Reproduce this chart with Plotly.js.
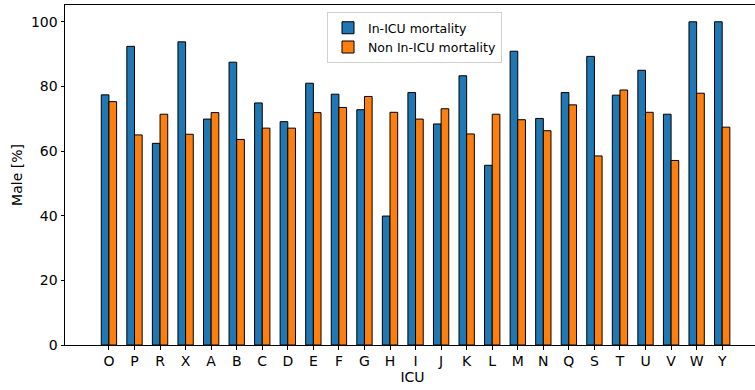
<!DOCTYPE html>
<html>
<head>
<meta charset="utf-8">
<script src="https://cdn.plot.ly/plotly-3.0.1.min.js"></script>
<style>html,body{margin:0;padding:0;overflow:hidden;background:#fff;}</style>
</head>
<body>
<div id="chart" style="width:760px;height:390px;"></div>
<script>
const categories = ["O","P","R","X","A","B","C","D","E","F","G","H","I","J","K","L","M","N","Q","S","T","U","V","W","Y"];
const inIcuMortality = [77.4,92.4,62.4,93.8,69.9,87.5,74.9,69.1,81.0,77.6,72.8,39.9,78.1,68.4,83.3,55.6,90.9,70.1,78.1,89.3,77.3,85.0,71.4,100,100];
const nonInIcuMortality = [75.3,65.0,71.4,65.2,71.9,63.6,67.1,67.1,71.9,73.5,76.9,72.0,69.9,73.1,65.3,71.4,69.7,66.3,74.3,58.5,78.9,72.0,57.1,77.9,67.4];
const seriesNames = ["In-ICU mortality","Non In-ICU mortality"];
const yTicks = [0,20,40,60,80,100];

const font = {family: "DejaVu Sans, sans-serif", size: 14, color: "#000"};
const data = [
  {type: "bar", name: seriesNames[0], x: categories, y: inIcuMortality,
   marker: {color: "#1f77b4", line: {color: "#000", width: 1}}},
  {type: "bar", name: seriesNames[1], x: categories, y: nonInIcuMortality,
   marker: {color: "#ff7f0e", line: {color: "#000", width: 1}}}
];
const layout = {
  width: 760, height: 390,
  margin: {l: 65, r: 0, t: 5, b: 45},
  paper_bgcolor: "#fff", plot_bgcolor: "#fff",
  font: font,
  barmode: "group", bargap: 0.4, bargroupgap: 0,
  showlegend: true,
  legend: {x: 0.377, y: 0.979, xanchor: "left", yanchor: "top",
           bordercolor: "#d0d0d0", borderwidth: 1, bgcolor: "rgba(255,255,255,0.8)",
           font: {family: "DejaVu Sans, sans-serif", size: 12.5, color: "#000"},
           tracegroupgap: 0},
  xaxis: {
    type: "category", range: [-1.72, 25.48],
    showline: true, linecolor: "#000", linewidth: 1, mirror: true,
    showgrid: false, zeroline: false,
    ticks: "outside", ticklen: 3.5, tickcolor: "#000",
    tickfont: font,
    title: {text: "ICU", font: font, standoff: 2}
  },
  yaxis: {
    range: [0, 105.2],
    showline: true, linecolor: "#000", linewidth: 1, mirror: false,
    showgrid: false, zeroline: false,
    ticks: "outside", ticklen: 3.5, tickcolor: "#000",
    tickvals: yTicks,
    tickfont: font,
    title: {text: "Male [%]", font: font, standoff: 5}
  }
};
Plotly.newPlot("chart", data, layout, {displayModeBar: false, staticPlot: true});
</script>
</body>
</html>
